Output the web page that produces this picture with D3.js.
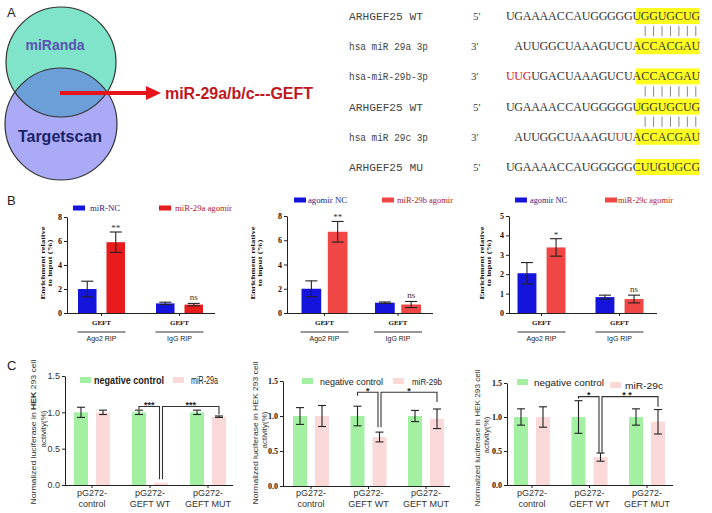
<!DOCTYPE html>
<html><head><meta charset="utf-8">
<script src="https://cdn.jsdelivr.net/npm/d3@7"></script>
<style>body{margin:0;background:#fff}svg{display:block}</style>
</head><body>
<script>
// ---------------- DATA ----------------
// Panel A: Venn sets & target
const vennSets = ["miRanda", "Targetscan"];
const vennTarget = "miR-29a/b/c---GEFT";
// Panel A: sequence alignment
const seqLabels = ["ARHGEF25 WT", "hsa miR 29a 3p", "hsa-miR-29b-3p", "ARHGEF25 WT", "hsa miR 29c 3p", "ARHGEF25 MU"];
const seqEnds = ["5'", "3'", "3'", "5'", "3'", "5'"];
const seqs = ["UGAAAACCAUGGGGGUGGUGCUG", "AUUGGCUAAAGUCUACCACGAU", "UUGUGACUAAAGUCUACCACGAU",
              "UGAAAACCAUGGGGGUGGUGCUG", "AUUGGCUAAAGUUUACCACGAU", "UGAAAACCAUGGGGGCUUGUGCG"];
const seqRed = [[], [], [0, 1, 2], [], [12], []];
const seedPairsAfterRow = [0, 2, 3];

// Panel B: RIP enrichment
const bGroups = ["GEFT", "GEFT"];
const bRip = ["Ago2 RIP", "IgG RIP"];
const bSeries = [["miR-NC", "miR-29a agomir"], ["agomir NC", "miR-29b agomir"], ["agomir NC", "miR-29c agomir"]];
const b1NC = [2.0, 0.80], b1NCerr = [0.65, 0.10], b1Ag = [5.9, 0.70], b1AgErr = [0.85, 0.10];
const b2NC = [2.0, 0.85], b2NCerr = [0.65, 0.06], b2Ag = [6.7, 0.70], b2AgErr = [0.85, 0.25];
const b3NC = [2.05, 0.82], b3NCerr = [0.55, 0.10], b3Ag = [3.38, 0.72], b3AgErr = [0.45, 0.20];
const bSig = [["**", "ns"], ["**", "ns"], ["*", "ns"]];
const bTicks = [[0, 2, 4, 6, 8], [0, 2, 4, 6, 8], [0, 1, 2, 3, 4, 5]];

// Panel C: luciferase
const cGroups = [["pG272-", "control"], ["pG272-", "GEFT WT"], ["pG272-", "GEFT MUT"]];
const cSeries = [["negative control", "miR-29a"], ["negative control", "miR-29b"], ["negative control", "miR-29c"]];
const c1NC = [1.0, 1.0, 1.0], c1NCerr = [0.07, 0.03, 0.03], c1Mi = [1.0, 0.03, 0.94], c1MiErr = [0.03, 0, 0.01];
const c2NC = [1.0, 1.0, 1.0], c2NCerr = [0.12, 0.14, 0.08], c2Mi = [1.0, 0.70, 0.96], c2MiErr = [0.15, 0.07, 0.14];
const c3NC = [1.0, 1.0, 1.0], c3NCerr = [0.12, 0.24, 0.12], c3Mi = [1.0, 0.41, 0.93], c3MiErr = [0.15, 0.06, 0.18];
const cTicks = [0, 0.5, 1.0, 1.5];
// brackets: [groupA, seriesA, groupB, seriesB, level, endA, endB, label]
const c1Brackets = [[1, 0, 1, 1, 1.08, 1.04, 0.08, "***"], [1, 1, 2, 1, 1.08, 0.08, 0.97, "***"]];
const c2Brackets = [[1, 0, 1, 1, 1.34, 1.29, 0.84, "*"], [1, 1, 2, 1, 1.34, 0.84, 1.20, "*"]];
const c3Brackets = [[1, 0, 1, 1, 1.30, 1.27, 0.47, "*"], [1, 1, 2, 1, 1.30, 0.47, 1.15, "* *"]];

// ---------------- DRAW ----------------
const SANS = "'Liberation Sans', Arial, sans-serif";
const SERIF = "'Liberation Serif', 'Times New Roman', serif";
const MONO = "'Liberation Mono', 'Courier New', monospace";
const svg = d3.select("body").append("svg").attr("width", 712).attr("height", 513)
  .style("background", "#fff");

// panel letters
[["A", 7, 17], ["B", 7, 205], ["C", 7, 370]].forEach(([t, x, y]) =>
  svg.append("text").attr("x", x).attr("y", y).text(t)
    .attr("font-family", SANS).attr("font-size", 13).attr("fill", "#222"));

// ---- Venn ----
const venn = svg.append("g");
const circ = [{cx: 61, cy: 62, r: 55, fill: "#80e4ca"}, {cx: 61, cy: 124, r: 56, fill: "#aaaaf6"}];
venn.append("clipPath").attr("id", "clipTop").append("circle")
  .attr("cx", circ[0].cx).attr("cy", circ[0].cy).attr("r", circ[0].r);
venn.selectAll("circle.fill").data(circ).enter().append("circle").attr("class", "fill")
  .attr("cx", d => d.cx).attr("cy", d => d.cy).attr("r", d => d.r).attr("fill", d => d.fill);
venn.append("circle").attr("cx", circ[1].cx).attr("cy", circ[1].cy).attr("r", circ[1].r)
  .attr("fill", "#6c9fd8").attr("clip-path", "url(#clipTop)");
venn.selectAll("circle.edge").data(circ).enter().append("circle").attr("class", "edge")
  .attr("cx", d => d.cx).attr("cy", d => d.cy).attr("r", d => d.r)
  .attr("fill", "none").attr("stroke", "#333").attr("stroke-width", 1.2);
venn.append("text").attr("x", 55).attr("y", 50).attr("text-anchor", "middle").text(vennSets[0])
  .attr("font-family", SANS).attr("font-weight", "bold").attr("font-size", 14).attr("fill", "#5b52b4");
venn.append("text").attr("x", 60).attr("y", 142).attr("text-anchor", "middle").text(vennSets[1])
  .attr("font-family", SANS).attr("font-weight", "bold").attr("font-size", 16).attr("fill", "#1c2268");
venn.append("line").attr("x1", 60).attr("x2", 148).attr("y1", 93).attr("y2", 93)
  .attr("stroke", "#e8141c").attr("stroke-width", 4);
venn.append("polygon").attr("points", "146,86 161,93 146,100").attr("fill", "#e8141c");
venn.append("text").attr("x", 165).attr("y", 99).text(vennTarget)
  .attr("font-family", SANS).attr("font-weight", "bold").attr("font-size", 16).attr("fill", "#c0161c")
  .attr("textLength", 148).attr("lengthAdjust", "spacingAndGlyphs");

// ---- Sequences ----
const seqG = svg.append("g");
const col = d3.scaleLinear().domain([0, 23]).range([506, 700]);
const rowY = d3.scalePoint().domain(d3.range(6)).range([16, 167]);
const labelLen = [74, 79, 79, 74, 79, 74];
seqs.forEach((s, r) => {
  const cy = rowY(r);
  seqG.append("rect").attr("x", col(15.4)).attr("width", col(22.9) - col(15.4))
    .attr("y", cy - 8).attr("height", 16).attr("fill", "#ffff20");
  seqG.append("text").attr("x", 349).attr("y", cy + 4).text(seqLabels[r])
    .attr("font-family", MONO).attr("font-size", 11).attr("fill", "#444")
    .attr("textLength", labelLen[r]).attr("lengthAdjust", "spacingAndGlyphs");
  seqG.append("text").attr("x", seqEnds[r] === "5'" ? 473 : 471).attr("y", cy + 4).text(seqEnds[r])
    .attr("font-family", SERIF).attr("font-size", 11).attr("fill", "#444");
  const off = 23 - s.length;
  seqG.selectAll(null).data(s.split("")).enter().append("text")
    .attr("x", (c, i) => col(off + i + 0.5)).attr("y", cy + 4).attr("text-anchor", "middle")
    .text(c => c).attr("font-family", SERIF).attr("font-size", 12)
    .attr("fill", (c, i) => seqRed[r].includes(i) ? "#d42020" : "#333");
});
seedPairsAfterRow.forEach(r => {
  seqG.selectAll(null).data(d3.range(16, 23)).enter().append("line")
    .attr("x1", c => col(c + 0.5)).attr("x2", c => col(c + 0.5))
    .attr("y1", rowY(r) + 10).attr("y2", rowY(r + 1) - 10)
    .attr("stroke", "#888").attr("stroke-width", 1);
});

// ---- generic bar panel ----
function barPanel(cfg) {
  const g = svg.append("g");
  const y = d3.scaleLinear().domain([0, cfg.yMax]).range([cfg.y0, cfg.yTop]);
  const gx = d3.scalePoint().domain(d3.range(cfg.nGroups)).range(cfg.centers);
  const sx = d3.scaleBand().domain(d3.range(cfg.values.length)).range([-cfg.hs, cfg.hs]).paddingInner(cfg.pad);
  cfg.values.forEach((vals, s) => {
    g.selectAll(null).data(vals).enter().append("rect")
      .attr("x", (v, i) => gx(i) + sx(s)).attr("width", sx.bandwidth())
      .attr("y", v => y(v)).attr("height", v => cfg.y0 - y(v)).attr("fill", cfg.colors[s]);
  });
  cfg.values.forEach((vals, s) => {
    vals.forEach((v, i) => {
      const e = cfg.errs[s][i];
      if (!e) return;
      const cx = gx(i) + sx(s) + sx.bandwidth() / 2;
      g.append("line").attr("x1", cx).attr("x2", cx).attr("y1", y(v - e)).attr("y2", y(v + e))
        .attr("stroke", "#222").attr("stroke-width", 1.1);
      [v - e, v + e].forEach(t => g.append("line").attr("x1", cx - cfg.cap).attr("x2", cx + cfg.cap)
        .attr("y1", y(t)).attr("y2", y(t)).attr("stroke", "#222").attr("stroke-width", 1.1));
    });
  });
  const ax = d3.axisLeft(y).tickValues(cfg.ticks).tickSize(3).tickSizeOuter(0).tickPadding(2)
    .tickFormat(cfg.fmt);
  const ag = g.append("g").attr("transform", `translate(${cfg.axisX},0)`).call(ax);
  ag.select(".domain").attr("stroke", "#222");
  ag.selectAll(".tick line").attr("stroke", "#222");
  ag.selectAll(".tick text").attr("font-family", cfg.tickFont).attr("font-size", cfg.tickSize)
    .attr("font-weight", cfg.tickWeight).attr("fill", cfg.tickColor);
  g.append("line").attr("x1", cfg.axisX).attr("x2", cfg.xEnd).attr("y1", cfg.y0 + 0.5).attr("y2", cfg.y0 + 0.5)
    .attr("stroke", "#222");
  g.selectAll(null).data(d3.range(cfg.nGroups)).enter().append("line")
    .attr("x1", i => gx(i)).attr("x2", i => gx(i)).attr("y1", cfg.y0).attr("y2", cfg.y0 + 3).attr("stroke", "#222");
  return {g, y, gx, sx};
}

// ---- Panel B ----
const bCfgs = [
  {vals: [b1NC, b1Ag], errs: [b1NCerr, b1AgErr], axisX: 67, xEnd: 215, y0: 313, yTop: 217, yMax: 8,
   centers: [101.5, 179.5], hs: 23.5, pad: 0.35, red: "#e81c1c",
   leg: [[73, 90, 208], [159, 175, 208]], legLen: [30, 57], title: [43, 50]},
  {vals: [b2NC, b2Ag], errs: [b2NCerr, b2AgErr], axisX: 287, xEnd: 433, y0: 313, yTop: 216, yMax: 8,
   centers: [324.5, 398], hs: 23, pad: 0.25, red: "#f04646",
   leg: [[294, 308, 200], [382, 397, 200]], legLen: [39, 56], title: [253, 260]},
  {vals: [b3NC, b3Ag], errs: [b3NCerr, b3AgErr], axisX: 509, xEnd: 657, y0: 313, yTop: 216, yMax: 5,
   centers: [541.5, 619.5], hs: 24, pad: 0.35, red: "#f04646",
   leg: [[515, 530, 200], [605, 618, 200]], legLen: [37, 55], title: [482, 489]}
];
bCfgs.forEach((c, k) => {
  const p = barPanel({values: c.vals, errs: c.errs, nGroups: 2, axisX: c.axisX, xEnd: c.xEnd, y0: c.y0,
    yTop: c.yTop, yMax: c.yMax, centers: c.centers, hs: c.hs, pad: c.pad, cap: 6,
    colors: ["#1414dc", c.red], ticks: bTicks[k], fmt: d3.format("d"),
    tickFont: SERIF, tickSize: 8, tickWeight: "bold", tickColor: "#111"});
  const g = p.g;
  c.vals[1].forEach((v, i) => {
    const cx = p.gx(i) + p.sx(1) + p.sx.bandwidth() / 2;
    const lab = bSig[k][i];
    g.append("text").attr("x", cx).attr("y", p.y(v + c.errs[1][i]) - (lab === "ns" ? 3 : 1))
      .attr("text-anchor", "middle").text(lab).attr("font-family", SERIF)
      .attr("font-size", 9).attr("fill", "#333");
  });
  d3.range(2).forEach(i => {
    const cx = p.gx(i);
    g.append("text").attr("x", cx).attr("y", 325).attr("text-anchor", "middle").text(bGroups[i])
      .attr("font-family", SERIF).attr("font-weight", "bold").attr("font-size", 7).attr("fill", "#111");
    g.append("line").attr("x1", cx - 24).attr("x2", cx + 24).attr("y1", 332).attr("y2", 332)
      .attr("stroke", "#333").attr("stroke-width", 1);
    g.append("text").attr("x", cx).attr("y", 341).attr("text-anchor", "middle").text(bRip[i])
      .attr("font-family", SANS).attr("font-size", 7).attr("fill", "#222");
  });
  const legCol = ["#1414dc", c.red], legText = ["#23238a", "#b02020"];
  c.leg.forEach(([rx, tx, ly], s) => {
    g.append("rect").attr("x", rx).attr("y", ly - 2.5).attr("width", 12).attr("height", 5).attr("fill", legCol[s]);
    g.append("text").attr("x", tx).attr("y", ly + 3).text(bSeries[k][s]).attr("font-family", SERIF)
      .attr("font-size", 8).attr("fill", legText[s])
      .attr("textLength", c.legLen[s]).attr("lengthAdjust", "spacingAndGlyphs");
  });
  const yc = 263;
  [["Enrichment relative", 73], ["to input (%)", 47]].forEach(([t, L], j) => {
    g.append("text").attr("transform", `translate(${c.title[j] + 2},${yc}) rotate(-90)`)
      .attr("text-anchor", "middle").text(t).attr("font-family", SERIF).attr("font-weight", "bold")
      .attr("font-size", 7).attr("fill", "#111").attr("textLength", L).attr("lengthAdjust", "spacingAndGlyphs");
  });
});

// ---- Panel C ----
const cCfgs = [
  {vals: [c1NC, c1Mi], errs: [c1NCerr, c1MiErr], br: c1Brackets, axisX: 65, xEnd: 233, y0: 485, yTop: 376,
   centers: [92, 208], tickFont: SANS, tickSize: 9, tickWeight: "normal", tickColor: "#333",
   leg: [[80, 94, 380], [173, 191, 380]], legLen: [70, 27], legBold: true, legFs: 10,
   title: [33, 43], titleLen: 145, yc: 432},
  {vals: [c2NC, c2Mi], errs: [c2NCerr, c2MiErr], br: c2Brackets, axisX: 283, xEnd: 450, y0: 486, yTop: 381,
   centers: [311, 426], tickFont: SERIF, tickSize: 8, tickWeight: "bold", tickColor: "#111",
   leg: [[302, 320, 381], [393, 412, 381]], legLen: [63, 30], legBold: false, legFs: 9,
   title: [255, 264], titleLen: 143, yc: 433},
  {vals: [c3NC, c3Mi], errs: [c3NCerr, c3MiErr], br: c3Brackets, axisX: 507, xEnd: 673, y0: 485, yTop: 383,
   centers: [532, 647], tickFont: SERIF, tickSize: 8, tickWeight: "bold", tickColor: "#111",
   leg: [[517, 534, 382], [610, 625, 385]], legLen: [70, 38], legBold: false, legFs: 9,
   title: [477, 486], titleLen: 137, yc: 438}
];
cCfgs.forEach((c, k) => {
  const p = barPanel({values: c.vals, errs: c.errs, nGroups: 3, axisX: c.axisX, xEnd: c.xEnd, y0: c.y0,
    yTop: c.yTop, yMax: 1.5, centers: c.centers, hs: 18, pad: 0.364, cap: 4,
    colors: ["#a3f0a3", "#fbd9d9"], ticks: cTicks, fmt: d3.format(".1f"),
    tickFont: c.tickFont, tickSize: c.tickSize, tickWeight: c.tickWeight, tickColor: c.tickColor});
  const g = p.g;
  const bx = (gi, si) => p.gx(gi) + p.sx(si) + p.sx.bandwidth() / 2;
  c.br.forEach(([ga, sa, gb, sb, lev, ea, eb, lab], j) => {
    const xa = bx(ga, sa) + (j === 1 ? 1.5 : 0), xb = bx(gb, sb) - (j === 0 ? 1.5 : 0);
    g.append("path").attr("d", `M${xa},${p.y(ea)}V${p.y(lev)}H${xb}V${p.y(eb)}`)
      .attr("fill", "none").attr("stroke", "#333").attr("stroke-width", 1.1);
    g.append("text").attr("x", (xa + xb) / 2 - (j === 1 && k === 2 ? 3 : 0)).attr("y", p.y(lev) + 1.5)
      .attr("text-anchor", "middle")
      .text(lab).attr("font-family", SANS).attr("font-weight", "bold").attr("font-size", 9).attr("fill", "#222");
  });
  d3.range(3).forEach(i => {
    cGroups[i].forEach((t, j) => g.append("text").attr("x", p.gx(i)).attr("y", 496 + j * 11)
      .attr("text-anchor", "middle").text(t).attr("font-family", SANS).attr("font-size", 9).attr("fill", "#333"));
  });
  const legCol = ["#a3f0a3", "#fbd9d9"];
  c.leg.forEach(([rx, tx, ly], s) => {
    g.append("rect").attr("x", rx).attr("y", ly - 3).attr("width", 11).attr("height", 6).attr("fill", legCol[s]);
    g.append("text").attr("x", tx).attr("y", ly + 3.5).text(cSeries[k][s]).attr("font-family", SANS)
      .attr("font-size", c.legFs).attr("font-weight", (s === 0 && c.legBold) ? "bold" : "normal")
      .attr("fill", "#222").attr("textLength", c.legLen[s]).attr("lengthAdjust", "spacingAndGlyphs");
  });
  const t1 = g.append("text").attr("transform", `translate(${c.title[0] + 3},${c.yc}) rotate(-90)`)
    .attr("text-anchor", "middle").attr("font-family", SANS).attr("font-size", 8).attr("fill", "#333")
    .attr("textLength", c.titleLen).attr("lengthAdjust", "spacingAndGlyphs");
  t1.append("tspan").text("Normalized luciferase in ");
  t1.append("tspan").text("HEK").attr("font-weight", k === 0 ? "bold" : "normal");
  t1.append("tspan").text(" 293 cell");
  g.append("text").attr("transform", `translate(${c.title[1] + 3},${c.yc - 3}) rotate(-90)`)
    .attr("text-anchor", "middle").text("activity(%)").attr("font-family", SANS).attr("font-size", 8)
    .attr("fill", "#333");
});
</script>
</body></html>
